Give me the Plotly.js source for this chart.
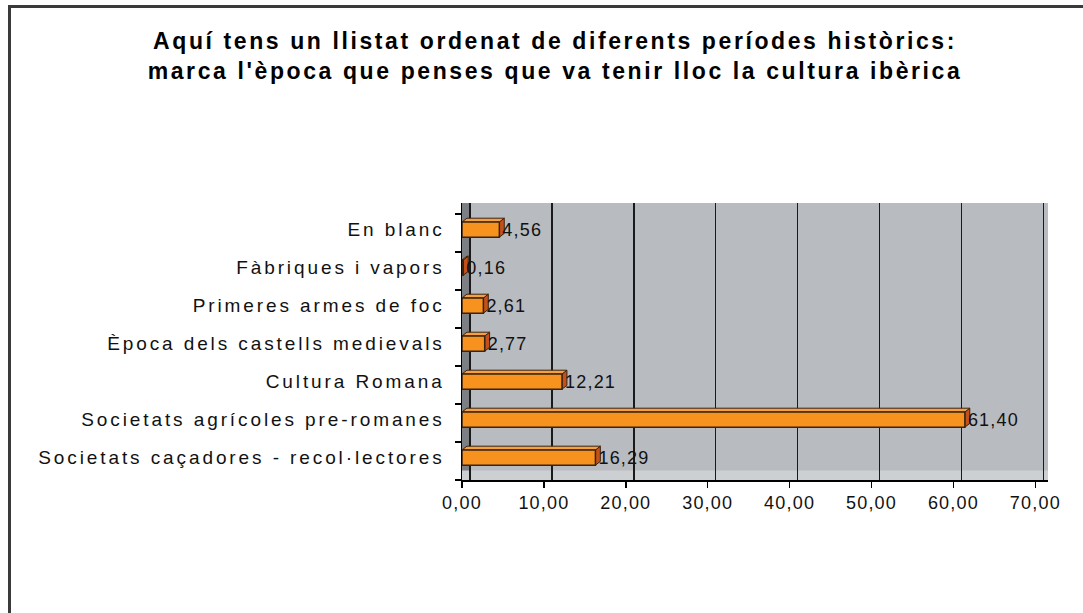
<!DOCTYPE html>
<html>
<head>
<meta charset="utf-8">
<script src="https://cdn.plot.ly/plotly-3.0.1.min.js"></script>
<style>
  html, body { margin:0; padding:0; background:#fff; }
  #frame { position:absolute; left:8px; top:5px; width:1200px; height:800px; border-top:3px solid #3a3a3a; border-left:3px solid #3a3a3a; }
  #chart { position:absolute; left:0; top:0; width:1083px; height:613px; }
  .ytick text { letter-spacing: 2.9px; }
  .xtick text { letter-spacing: 1.2px; }
  .bartext { letter-spacing: 1.2px; }
  .gtitle { letter-spacing: 2.6px; }
</style>
</head>
<body>
<div id="frame"></div>
<div id="chart"></div>
<script>
// Data (bottom to top)
const categories = [
  "Societats caçadores - recol·lectores",
  "Societats agrícoles pre-romanes",
  "Cultura Romana",
  "Època dels castells medievals",
  "Primeres armes de foc",
  "Fàbriques i vapors",
  "En blanc"
];
const values = [16.29, 61.40, 12.21, 2.77, 2.61, 0.16, 4.56];
const xTickValues = [0, 10, 20, 30, 40, 50, 60, 70];

const positions = categories.map((c, i) => i);
const labelShift = 0.1;
const barWidth = 0.4;
const barOffset = -0.11;
const dx = 0.6, dy = 0.1;

const shapes = [];
// left wall and floor
shapes.push({type:'rect', xref:'x', yref:'y', x0:0, x1:0.98, y0:-0.5, y1:6.79, fillcolor:'#7c7f83', line:{width:0}, layer:'below'});
shapes.push({type:'rect', xref:'x', yref:'y', x0:0, x1:71.55, y0:-0.5, y1:-0.25, fillcolor:'#cdd0d3', line:{width:0}, layer:'below'});
// 3D faces of bars
values.forEach((v, i) => {
  const yb = positions[i] + barOffset;
  const yt = yb + barWidth;
  shapes.push({type:'path', xref:'x', yref:'y', layer:'between',
    path:`M ${v},${yb} L ${v+dx},${yb+dy} L ${v+dx},${yt+dy} L ${v},${yt} Z`,
    fillcolor:'#c4511b', line:{color:'#3a2410', width:1}});
  shapes.push({type:'path', xref:'x', yref:'y', layer:'between',
    path:`M 0,${yt} L ${dx},${yt+dy} L ${v+dx},${yt+dy} L ${v},${yt} Z`,
    fillcolor:'#f7a040', line:{color:'#3a2410', width:1}});
});

const trace = {
  type:'bar', orientation:'h',
  x: values, y: positions,
  width: barWidth, offset: barOffset,
  marker:{color:'#f7921e', line:{color:'#3a2410', width:1.5}},
  texttemplate:'%{x:.2f}', textposition:'outside', cliponaxis:false,
  constraintext:'none',
  textfont:{family:'Liberation Sans, Arial, sans-serif', size:18, color:'#111'},
  hoverinfo:'none'
};
const gridTrace = {type:'scatter', x:[0], y:[0], xaxis:'x2', mode:'none', hoverinfo:'none', showlegend:false};

const layout = {
  width:1083, height:613,
  separators:',.',
  paper_bgcolor:'rgba(0,0,0,0)',
  plot_bgcolor:'#b8bbbf',
  margin:{l:462, r:35, t:203, b:133},
  showlegend:false,
  title:{
    text:"Aquí tens un llistat ordenat de diferents períodes històrics:<br>marca l'època que penses que va tenir lloc la cultura ibèrica",
    font:{family:'Liberation Sans, Arial, sans-serif', size:23, color:'#000', weight:'bold'},
    xref:'container', x:0.5125, xanchor:'center',
    yref:'container', y:0.92, yanchor:'middle'
  },
  xaxis:{
    range:[0, 71.55], tickvals:xTickValues, tickformat:'.2f',
    showgrid:false, zeroline:false,
    showline:true, linecolor:'#000', linewidth:1.5,
    ticks:'outside', ticklen:6, tickcolor:'#000', tickwidth:1.5,
    tickfont:{family:'Liberation Sans, Arial, sans-serif', size:18, color:'#111'},
    fixedrange:true
  },
  xaxis2:{
    overlaying:'x', range:[-0.98, 70.57], tickvals:xTickValues,
    showticklabels:false, showgrid:true, gridcolor:'#1a1a1a', gridwidth:1.5,
    zeroline:false, showline:false, ticks:''
  },
  yaxis:{
    range:[-0.5, 6.79], tickvals:positions.map(p => p + labelShift), ticktext:categories,
    showgrid:false, zeroline:false,
    showline:true, linecolor:'#000', linewidth:1.5,
    ticks:'', ticklabelstandoff:12,
    minor:{tick0:0.5, dtick:1, ticks:'outside', ticklen:6, tickcolor:'#000', tickwidth:1.5, showgrid:false},
    tickfont:{family:'Liberation Sans, Arial, sans-serif', size:19, color:'#111'},
    fixedrange:true
  },
  shapes: shapes
};

Plotly.newPlot('chart', [gridTrace, trace], layout, {displayModeBar:false, staticPlot:true});
</script>
</body>
</html>
